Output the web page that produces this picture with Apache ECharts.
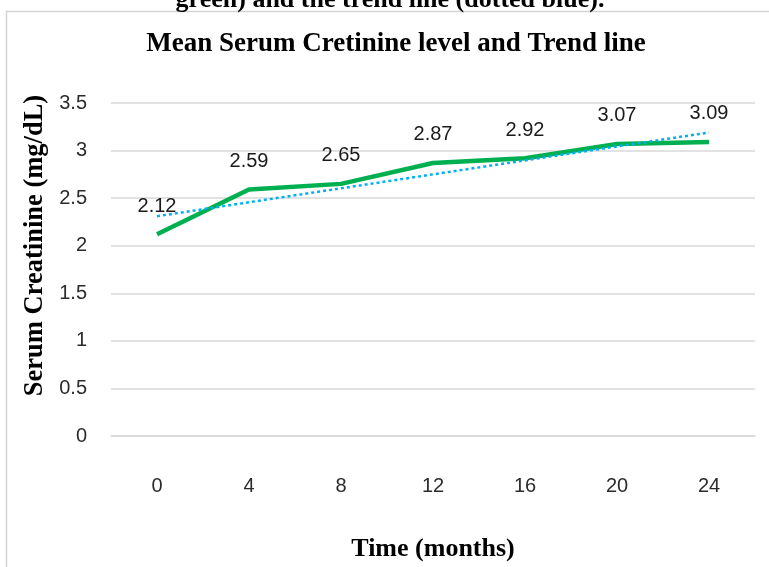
<!DOCTYPE html>
<html>
<head>
<meta charset="utf-8">
<script src="https://cdn.jsdelivr.net/npm/echarts@6/dist/echarts.min.js"></script>
<style>
html,body{margin:0;padding:0;background:#fff;}
#chart{width:769px;height:567px;}
</style>
</head>
<body>
<div id="chart"></div>
<script>
// ---- data ----
const months = ['0', '4', '8', '12', '16', '20', '24'];
const creatinine = [2.12, 2.59, 2.65, 2.87, 2.92, 3.07, 3.09];
// trend line: value at first and last category
const trendLine = [2.31, null, null, null, null, null, 3.19];
const yTicks = [0, 0.5, 1, 1.5, 2, 2.5, 3, 3.5];

const chart = echarts.init(document.getElementById('chart'), null, {renderer: 'canvas'});
const serif = '"Liberation Serif", "Times New Roman", serif';
const sans = '"Liberation Sans", Arial, sans-serif';

chart.setOption({
  backgroundColor: '#ffffff',
  animation: false,
  graphic: [
    {
      type: 'rect',
      shape: {x: 6.5, y: 11.5, width: 820, height: 620},
      style: {fill: 'none', stroke: '#d4d4d4', lineWidth: 1.5},
      z: 0
    },
    {
      type: 'text',
      style: {
        text: 'green) and the trend line (dotted blue).',
        x: 390, y: 13,
        textAlign: 'center', textVerticalAlign: 'bottom',
        font: 'bold 26px ' + serif,
        fill: '#000'
      }
    }
  ],
  title: {
    text: 'Mean Serum Cretinine level and Trend line',
    left: 391, top: 26, textAlign: 'center',
    textStyle: {fontFamily: serif, fontWeight: 'bold', fontSize: 27, color: '#000'}
  },
  grid: {left: 111, right: 14, top: 103, bottom: 118},
  xAxis: {
    type: 'category',
    data: months,
    boundaryGap: true,
    name: 'Time (months)',
    nameLocation: 'middle',
    nameGap: 100,
    nameTextStyle: {fontFamily: serif, fontWeight: 'bold', fontSize: 26, color: '#000'},
    axisLine: {show: true, lineStyle: {color: '#d9d9d9', width: 1.5}},
    axisTick: {show: false},
    axisLabel: {margin: 40, fontFamily: sans, fontSize: 20, color: '#2b2b2b'}
  },
  yAxis: {
    type: 'value',
    min: yTicks[0], max: yTicks[yTicks.length - 1], interval: 0.5,
    name: 'Serum Creatinine (mg/dL)',
    nameLocation: 'middle',
    nameGap: 58,
    nameRotate: 90,
    nameTextStyle: {fontFamily: serif, fontWeight: 'bold', fontSize: 26.5, color: '#000', padding: [0, 0, 0, 48]},
    axisLine: {show: false},
    axisTick: {show: false},
    splitLine: {lineStyle: {color: '#d9d9d9', width: 1.5}},
    axisLabel: {margin: 24, fontFamily: sans, fontSize: 20, color: '#2b2b2b'}
  },
  series: [
    {
      type: 'line',
      data: creatinine,
      symbol: 'circle',
      symbolSize: 0.1,
      showSymbol: true,
      lineStyle: {color: '#00B050', width: 4.5},
      itemStyle: {color: '#00B050'},
      label: {show: true, position: 'top', distance: 18, fontFamily: sans, fontSize: 20, color: '#1a1a1a'},
      z: 2
    },
    {
      type: 'line',
      data: trendLine,
      connectNulls: true,
      symbol: 'none',
      lineStyle: {color: '#00B0F0', width: 2.5, type: [3, 3]},
      z: 3
    }
  ]
});
</script>
</body>
</html>
